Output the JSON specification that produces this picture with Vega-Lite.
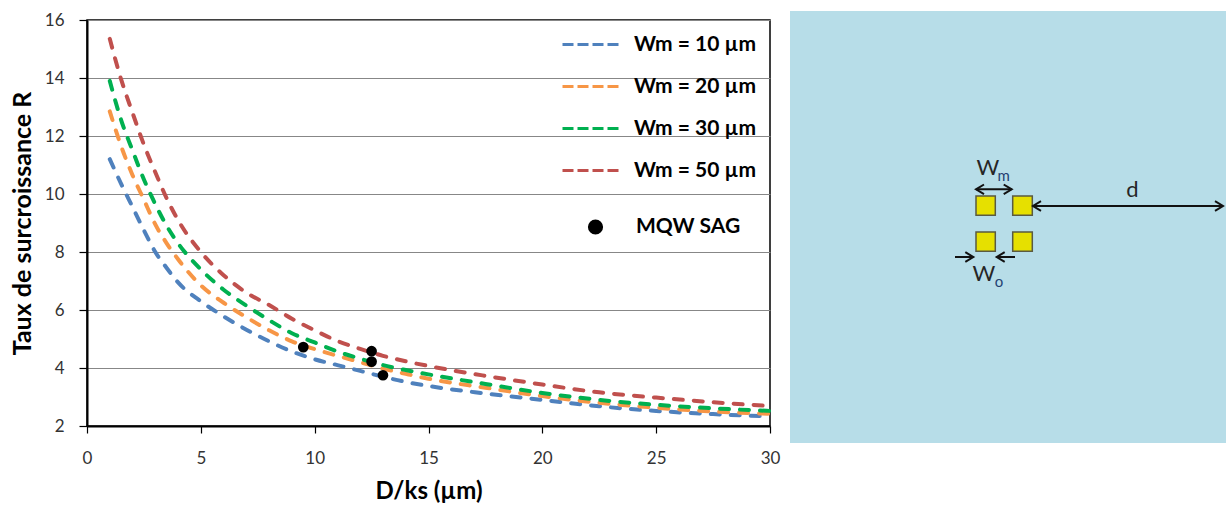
{
  "$schema": "https://vega.github.io/schema/vega-lite/v6.json",
  "background": "white",
  "padding": {"left": 9, "top": 10, "right": 0, "bottom": 0},
  "spacing": 9,
  "config": {
    "font": "Lato",
    "view": {"stroke": null},
    "axis": {"labelFont": "Lato", "titleFont": "Lato"},
    "legend": {"labelFont": "Lato"}
  },
  "datasets": {
    "curves": [
      {"series": "Wm = 10 µm", "x": 1, "R": 11.2}, {"series": "Wm = 10 µm", "x": 1.5, "R": 10.35}, {"series": "Wm = 10 µm", "x": 2, "R": 9.55}, {"series": "Wm = 10 µm", "x": 2.5, "R": 8.75}, {"series": "Wm = 10 µm", "x": 3, "R": 8.0}, {"series": "Wm = 10 µm", "x": 3.5, "R": 7.45}, {"series": "Wm = 10 µm", "x": 4, "R": 6.95}, {"series": "Wm = 10 µm", "x": 5, "R": 6.3}, {"series": "Wm = 10 µm", "x": 6, "R": 5.78}, {"series": "Wm = 10 µm", "x": 7, "R": 5.32}, {"series": "Wm = 10 µm", "x": 8, "R": 4.92}, {"series": "Wm = 10 µm", "x": 9, "R": 4.57}, {"series": "Wm = 10 µm", "x": 10, "R": 4.3}, {"series": "Wm = 10 µm", "x": 11, "R": 4.1}, {"series": "Wm = 10 µm", "x": 12, "R": 3.9}, {"series": "Wm = 10 µm", "x": 13, "R": 3.7}, {"series": "Wm = 10 µm", "x": 14, "R": 3.52}, {"series": "Wm = 10 µm", "x": 15, "R": 3.38}, {"series": "Wm = 10 µm", "x": 17.5, "R": 3.12}, {"series": "Wm = 10 µm", "x": 20, "R": 2.9}, {"series": "Wm = 10 µm", "x": 22.5, "R": 2.68}, {"series": "Wm = 10 µm", "x": 25, "R": 2.52}, {"series": "Wm = 10 µm", "x": 27.5, "R": 2.41}, {"series": "Wm = 10 µm", "x": 30, "R": 2.33},
      {"series": "Wm = 20 µm", "x": 1, "R": 12.85}, {"series": "Wm = 20 µm", "x": 1.5, "R": 11.65}, {"series": "Wm = 20 µm", "x": 2, "R": 10.65}, {"series": "Wm = 20 µm", "x": 2.5, "R": 9.8}, {"series": "Wm = 20 µm", "x": 3, "R": 8.95}, {"series": "Wm = 20 µm", "x": 3.5, "R": 8.3}, {"series": "Wm = 20 µm", "x": 4, "R": 7.75}, {"series": "Wm = 20 µm", "x": 5, "R": 6.85}, {"series": "Wm = 20 µm", "x": 6, "R": 6.25}, {"series": "Wm = 20 µm", "x": 7, "R": 5.75}, {"series": "Wm = 20 µm", "x": 8, "R": 5.3}, {"series": "Wm = 20 µm", "x": 9, "R": 4.92}, {"series": "Wm = 20 µm", "x": 10, "R": 4.65}, {"series": "Wm = 20 µm", "x": 11, "R": 4.42}, {"series": "Wm = 20 µm", "x": 12, "R": 4.2}, {"series": "Wm = 20 µm", "x": 13, "R": 3.98}, {"series": "Wm = 20 µm", "x": 14, "R": 3.8}, {"series": "Wm = 20 µm", "x": 15, "R": 3.63}, {"series": "Wm = 20 µm", "x": 17.5, "R": 3.32}, {"series": "Wm = 20 µm", "x": 20, "R": 3.03}, {"series": "Wm = 20 µm", "x": 22.5, "R": 2.8}, {"series": "Wm = 20 µm", "x": 25, "R": 2.63}, {"series": "Wm = 20 µm", "x": 27.5, "R": 2.5}, {"series": "Wm = 20 µm", "x": 30, "R": 2.42},
      {"series": "Wm = 30 µm", "x": 1, "R": 13.9}, {"series": "Wm = 30 µm", "x": 1.5, "R": 12.55}, {"series": "Wm = 30 µm", "x": 2, "R": 11.5}, {"series": "Wm = 30 µm", "x": 2.5, "R": 10.5}, {"series": "Wm = 30 µm", "x": 3, "R": 9.65}, {"series": "Wm = 30 µm", "x": 3.5, "R": 8.9}, {"series": "Wm = 30 µm", "x": 4, "R": 8.3}, {"series": "Wm = 30 µm", "x": 5, "R": 7.4}, {"series": "Wm = 30 µm", "x": 6, "R": 6.7}, {"series": "Wm = 30 µm", "x": 7, "R": 6.15}, {"series": "Wm = 30 µm", "x": 8, "R": 5.65}, {"series": "Wm = 30 µm", "x": 9, "R": 5.2}, {"series": "Wm = 30 µm", "x": 10, "R": 4.88}, {"series": "Wm = 30 µm", "x": 11, "R": 4.57}, {"series": "Wm = 30 µm", "x": 12, "R": 4.32}, {"series": "Wm = 30 µm", "x": 13, "R": 4.1}, {"series": "Wm = 30 µm", "x": 14, "R": 3.93}, {"series": "Wm = 30 µm", "x": 15, "R": 3.78}, {"series": "Wm = 30 µm", "x": 17.5, "R": 3.45}, {"series": "Wm = 30 µm", "x": 20, "R": 3.14}, {"series": "Wm = 30 µm", "x": 22.5, "R": 2.9}, {"series": "Wm = 30 µm", "x": 25, "R": 2.73}, {"series": "Wm = 30 µm", "x": 27.5, "R": 2.61}, {"series": "Wm = 30 µm", "x": 30, "R": 2.52},
      {"series": "Wm = 50 µm", "x": 1, "R": 15.35}, {"series": "Wm = 50 µm", "x": 1.5, "R": 13.95}, {"series": "Wm = 50 µm", "x": 2, "R": 12.8}, {"series": "Wm = 50 µm", "x": 2.5, "R": 11.7}, {"series": "Wm = 50 µm", "x": 3, "R": 10.75}, {"series": "Wm = 50 µm", "x": 3.5, "R": 9.85}, {"series": "Wm = 50 µm", "x": 4, "R": 9.1}, {"series": "Wm = 50 µm", "x": 5, "R": 8.0}, {"series": "Wm = 50 µm", "x": 6, "R": 7.2}, {"series": "Wm = 50 µm", "x": 7, "R": 6.6}, {"series": "Wm = 50 µm", "x": 8, "R": 6.17}, {"series": "Wm = 50 µm", "x": 9, "R": 5.7}, {"series": "Wm = 50 µm", "x": 10, "R": 5.3}, {"series": "Wm = 50 µm", "x": 11, "R": 4.93}, {"series": "Wm = 50 µm", "x": 12, "R": 4.66}, {"series": "Wm = 50 µm", "x": 13, "R": 4.42}, {"series": "Wm = 50 µm", "x": 14, "R": 4.23}, {"series": "Wm = 50 µm", "x": 15, "R": 4.07}, {"series": "Wm = 50 µm", "x": 17.5, "R": 3.73}, {"series": "Wm = 50 µm", "x": 20, "R": 3.43}, {"series": "Wm = 50 µm", "x": 22.5, "R": 3.16}, {"series": "Wm = 50 µm", "x": 25, "R": 2.98}, {"series": "Wm = 50 µm", "x": 27.5, "R": 2.82}, {"series": "Wm = 50 µm", "x": 30, "R": 2.69}
    ],
    "points": [
      {"type": "MQW SAG", "x": 9.5, "R": 4.72},
      {"type": "MQW SAG", "x": 12.5, "R": 4.58},
      {"type": "MQW SAG", "x": 12.5, "R": 4.22},
      {"type": "MQW SAG", "x": 13.0, "R": 3.75}
    ],
    "panel": [
      {"x": 0, "x2": 436, "y": 0, "y2": 432}
    ],
    "squares": [
      {"x": 186, "x2": 205.3, "y": 185, "y2": 204.3},
      {"x": 222.7, "x2": 242.3, "y": 185, "y2": 204.3},
      {"x": 186, "x2": 205.3, "y": 221, "y2": 240.3},
      {"x": 222.7, "x2": 242.3, "y": 221, "y2": 240.3}
    ],
    "shafts": [
      {"x": 186, "x2": 221.7, "y": 178.3},
      {"x": 243, "x2": 433, "y": 195},
      {"x": 165, "x2": 183.3, "y": 246},
      {"x": 206.7, "x2": 225, "y": 246}
    ],
    "tips": [
      {"dir": "left", "x": 186, "y": 178.3},
      {"dir": "right", "x": 221.7, "y": 178.3},
      {"dir": "left", "x": 243, "y": 195},
      {"dir": "right", "x": 433, "y": 195},
      {"dir": "right", "x": 183.3, "y": 246},
      {"dir": "left", "x": 206.7, "y": 246}
    ],
    "labels": [
      {"kind": "main", "text": "W", "x": 197.8, "y": 156.7},
      {"kind": "sub", "text": "m", "x": 213.7, "y": 165},
      {"kind": "main", "text": "d", "x": 342.5, "y": 179},
      {"kind": "main", "text": "W", "x": 194, "y": 262.5},
      {"kind": "sub", "text": "o", "x": 209, "y": 271}
    ]
  },
  "hconcat": [
    {
      "width": 683,
      "height": 406,
      "view": {"stroke": "black", "strokeWidth": 1.5},
      "layer": [
        {
          "data": {"name": "curves"},
          "mark": {"type": "line", "strokeWidth": 4, "strokeDash": [9, 11], "strokeCap": "round", "interpolate": "monotone"},
          "encoding": {
            "x": {
              "field": "x", "type": "quantitative", "title": "D/ks (µm)",
              "scale": {"domain": [0, 30], "nice": false},
              "axis": {"values": [0, 5, 10, 15, 20, 25, 30], "grid": false, "domainColor": "black", "domainWidth": 2, "tickColor": "black", "tickSize": 7, "tickWidth": 1.2, "labelFontSize": 17, "labelColor": "#333333", "labelPadding": 17, "labelFlush": false, "titleFontSize": 24, "titleFontWeight": "bold", "titleColor": "black", "titlePadding": 13}
            },
            "y": {
              "field": "R", "type": "quantitative", "title": "Taux de surcroissance R",
              "scale": {"domain": [2, 16], "nice": false},
              "axis": {"values": [2, 4, 6, 8, 10, 12, 14, 16], "grid": true, "gridColor": "#878787", "gridWidth": 1.2, "domainColor": "black", "domainWidth": 2, "tickColor": "black", "tickSize": 8, "tickWidth": 1.2, "labelFontSize": 17, "labelColor": "#333333", "labelPadding": 15, "titleFontSize": 25, "titleFontWeight": "bold", "titleColor": "black", "titlePadding": 9}
            },
            "color": {
              "field": "series", "type": "nominal",
              "scale": {"domain": ["Wm = 10 µm", "Wm = 20 µm", "Wm = 30 µm", "Wm = 50 µm"], "range": ["#4F81BD", "#F79646", "#00B050", "#C0504D"]},
              "legend": {
                "orient": "none", "legendX": 493, "legendY": 14, "title": null, "padding": 0,
                "symbolType": "M-4,0H4", "symbolSize": 196, "symbolStrokeWidth": 3, "symbolDash": [11, 4],
                "labelFontSize": 21, "labelFontWeight": "bold", "labelColor": "black", "labelOffset": 33, "rowPadding": 20, "labelLimit": 300,
                "encode": {"symbols": {"update": {
                  "stroke": {"signal": "datum.value === 'Wm = 10 µm' ? '#0070C0' : datum.value === 'Wm = 20 µm' ? '#F79646' : datum.value === 'Wm = 30 µm' ? '#00B050' : '#FF0000'"},
                  "strokeDash": {"value": [11, 4]},
                  "strokeWidth": {"value": 3},
                  "strokeCap": {"value": "butt"}
                }}}
              }
            }
          }
        },
        {
          "data": {"name": "points"},
          "mark": {"type": "point", "filled": true, "color": "black", "size": 115, "opacity": 1},
          "encoding": {
            "x": {"field": "x", "type": "quantitative"},
            "y": {"field": "R", "type": "quantitative"},
            "shape": {
              "field": "type", "type": "nominal",
              "scale": {"range": ["circle"]},
              "legend": {
                "orient": "none", "legendX": 498, "legendY": 196.5, "title": null, "padding": 0,
                "symbolSize": 230, "symbolFillColor": "black", "symbolStrokeWidth": 0,
                "labelFontSize": 21, "labelFontWeight": "bold", "labelColor": "black", "labelOffset": 30,
                "encode": {"labels": {"update": {"dy": {"value": -6}}}}
              }
            }
          }
        }
      ]
    },
    {
      "width": 436,
      "height": 423,
      "view": {"stroke": null},
      "layer": [
        {
          "data": {"name": "panel"},
          "mark": {"type": "rect", "fill": "#B7DDE8", "stroke": null},
          "encoding": {
            "x": {"field": "x", "type": "quantitative", "scale": {"domain": [0, 436], "nice": false, "zero": false}, "axis": null},
            "x2": {"field": "x2"},
            "y": {"field": "y", "type": "quantitative", "scale": {"domain": [9, 432], "nice": false, "zero": false, "reverse": true}, "axis": null},
            "y2": {"field": "y2"}
          }
        },
        {
          "data": {"name": "squares"},
          "mark": {"type": "rect", "fill": "#E6E000", "stroke": "#5A5A40", "strokeWidth": 1.5},
          "encoding": {
            "x": {"field": "x", "type": "quantitative"},
            "x2": {"field": "x2"},
            "y": {"field": "y", "type": "quantitative"},
            "y2": {"field": "y2"}
          }
        },
        {
          "data": {"name": "shafts"},
          "mark": {"type": "rule", "stroke": "#111111", "strokeWidth": 2},
          "encoding": {
            "x": {"field": "x", "type": "quantitative"},
            "x2": {"field": "x2"},
            "y": {"field": "y", "type": "quantitative"}
          }
        },
        {
          "data": {"name": "tips"},
          "transform": [{"filter": "datum.dir === 'right'"}],
          "mark": {"type": "point", "shape": "M-1,-0.6L0,0L-1,0.6", "filled": false, "stroke": "#111111", "strokeWidth": 2, "size": 256, "opacity": 1},
          "encoding": {
            "x": {"field": "x", "type": "quantitative"},
            "y": {"field": "y", "type": "quantitative"}
          }
        },
        {
          "data": {"name": "tips"},
          "transform": [{"filter": "datum.dir === 'left'"}],
          "mark": {"type": "point", "shape": "M1,-0.6L0,0L1,0.6", "filled": false, "stroke": "#111111", "strokeWidth": 2, "size": 256, "opacity": 1},
          "encoding": {
            "x": {"field": "x", "type": "quantitative"},
            "y": {"field": "y", "type": "quantitative"}
          }
        },
        {
          "data": {"name": "labels"},
          "transform": [{"filter": "datum.kind === 'main'"}],
          "mark": {"type": "text", "font": "Lato", "fontSize": 22, "color": "#262626", "align": "center", "baseline": "middle"},
          "encoding": {
            "x": {"field": "x", "type": "quantitative"},
            "y": {"field": "y", "type": "quantitative"},
            "text": {"field": "text"}
          }
        },
        {
          "data": {"name": "labels"},
          "transform": [{"filter": "datum.kind === 'sub'"}],
          "mark": {"type": "text", "font": "Lato", "fontSize": 15, "color": "#243F72", "align": "center", "baseline": "middle"},
          "encoding": {
            "x": {"field": "x", "type": "quantitative"},
            "y": {"field": "y", "type": "quantitative"},
            "text": {"field": "text"}
          }
        }
      ]
    }
  ]
}
